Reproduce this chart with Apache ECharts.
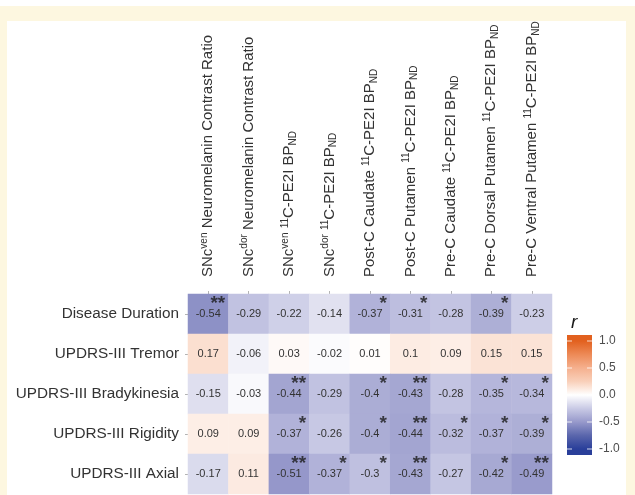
<!DOCTYPE html>
<html>
<head>
<meta charset="utf-8">
<script src="https://cdn.jsdelivr.net/npm/echarts@6/dist/echarts.min.js"></script>
<style>
  html, body { margin: 0; padding: 0; background: #ffffff; }
  #chart { width: 635px; height: 495px; }
</style>
</head>
<body>
<div id="chart"></div>
<script>
// Imaging measures (columns); ^{..} marks superscript, _{..} subscript
const columns = [
  'SNc^{ven} Neuromelanin Contrast Ratio',
  'SNc^{dor} Neuromelanin Contrast Ratio',
  'SNc^{ven} ^{11}C-PE2I BP_{ND}',
  'SNc^{dor} ^{11}C-PE2I BP_{ND}',
  'Post-C Caudate ^{11}C-PE2I BP_{ND}',
  'Post-C Putamen ^{11}C-PE2I BP_{ND}',
  'Pre-C Caudate ^{11}C-PE2I BP_{ND}',
  'Pre-C Dorsal Putamen ^{11}C-PE2I BP_{ND}',
  'Pre-C Ventral Putamen ^{11}C-PE2I BP_{ND}'
];

// Clinical measures (rows, top to bottom)
const rows = [
  'Disease Duration',
  'UPDRS-III Tremor',
  'UPDRS-III Bradykinesia',
  'UPDRS-III Rigidity',
  'UPDRS-III Axial'
];

// Correlation coefficients r, one array per row
const diseaseDuration = [-0.54, -0.29, -0.22, -0.14, -0.37, -0.31, -0.28, -0.39, -0.23];
const tremor          = [0.17, -0.06, 0.03, -0.02, 0.01, 0.1, 0.09, 0.15, 0.15];
const bradykinesia    = [-0.15, -0.03, -0.44, -0.29, -0.4, -0.43, -0.28, -0.35, -0.34];
const rigidity        = [0.09, 0.09, -0.37, -0.26, -0.4, -0.44, -0.32, -0.37, -0.39];
const axial           = [-0.17, 0.11, -0.51, -0.37, -0.3, -0.43, -0.27, -0.42, -0.49];

// Significance markers
const sigDiseaseDuration = ['**', '', '', '', '*', '*', '', '*', ''];
const sigTremor          = ['', '', '', '', '', '', '', '', ''];
const sigBradykinesia    = ['', '', '**', '', '*', '**', '', '*', '*'];
const sigRigidity        = ['', '', '*', '', '*', '**', '*', '*', '*'];
const sigAxial           = ['', '', '**', '*', '*', '**', '', '*', '**'];

// Colour bar tick labels
const legendTicks = [1.0, 0.5, 0.0, -0.5, -1.0];

const values = [diseaseDuration, tremor, bradykinesia, rigidity, axial];
const stars = [sigDiseaseDuration, sigTremor, sigBradykinesia, sigRigidity, sigAxial];

// Diverging palette from r = -1 to r = 1
const palette = ['#2a3f9a', '#5a66ac', '#9799cb', '#c9cae5', '#ffffff',
                 '#f9d0ba', '#f5b08e', '#ed8a57', '#e2611f'];

const heatData = [];
const starData = [];
values.forEach((rowVals, yi) => {
  rowVals.forEach((v, xi) => {
    heatData.push([xi, yi, v]);
    if (stars[yi][xi]) starData.push([xi, yi, stars[yi][xi]]);
  });
});

function toRich(s) {
  return s.replace(/\^\{([^}]*)\}/g, '{sup|$1}').replace(/_\{([^}]*)\}/g, '{sub|$1}');
}

const FONT = '"Liberation Sans", Arial, Helvetica, sans-serif';
const chart = echarts.init(document.getElementById('chart'), null, { renderer: 'canvas' });

// Colour bar geometry
const bar = { x: 567, y: 335, w: 25, h: 120, inset: 6 };
const tickY = v => bar.y + bar.inset + (1 - v) / 2 * (bar.h - 2 * bar.inset);
const CREAM = '#fdf7e0';

// Gradient stops for the colour bar, top = +1
const barStops = [{ offset: 0, color: palette[palette.length - 1] }];
palette.slice().reverse().forEach((c, i) => {
  barStops.push({ offset: (bar.inset + i / (palette.length - 1) * (bar.h - 2 * bar.inset)) / bar.h, color: c });
});
barStops.push({ offset: 1, color: palette[0] });

const graphics = [
  { type: 'rect', shape: { x: 0, y: 6, width: 635, height: 15 }, style: { fill: CREAM }, silent: true },
  { type: 'rect', shape: { x: 0, y: 6, width: 7, height: 489 }, style: { fill: CREAM }, silent: true },
  { type: 'rect', shape: { x: 626, y: 6, width: 9, height: 489 }, style: { fill: CREAM }, silent: true },
  {
    type: 'rect', shape: { x: bar.x, y: bar.y, width: bar.w, height: bar.h }, silent: true,
    style: { fill: new echarts.graphic.LinearGradient(0, 0, 0, 1, barStops) }
  },
  {
    type: 'text', left: 571, top: 313, silent: true,
    style: { text: 'r', font: 'italic 19px ' + FONT, fill: '#1a1a1a' }
  }
];
legendTicks.forEach(v => {
  const y = tickY(v);
  graphics.push({
    type: 'text', x: 599, y: y, silent: true,
    style: { text: v.toFixed(1), font: '12px ' + FONT, fill: '#4d4d4d', verticalAlign: 'middle', textAlign: 'left' }
  });
  graphics.push({ type: 'line', silent: true, shape: { x1: bar.x, y1: y, x2: bar.x + 5, y2: y }, style: { stroke: 'rgba(255,255,255,0.8)', lineWidth: 1 } });
  graphics.push({ type: 'line', silent: true, shape: { x1: bar.x + bar.w - 5, y1: y, x2: bar.x + bar.w, y2: y }, style: { stroke: 'rgba(255,255,255,0.8)', lineWidth: 1 } });
});

chart.setOption({
  backgroundColor: '#ffffff',
  animation: false,
  textStyle: { fontFamily: FONT },
  grid: { left: 188, top: 294, width: 364, height: 200 },
  xAxis: {
    type: 'category',
    position: 'top',
    data: columns,
    axisLine: { show: false },
    axisTick: { show: true, alignWithLabel: true, length: 3, lineStyle: { color: '#b3b3b3' } },
    splitLine: { show: false },
    axisLabel: {
      rotate: -90,
      interval: 0,
      margin: 17,
      fontSize: 15,
      color: '#333333',
      fontFamily: FONT,
      lineHeight: 18,
      formatter: s => toRich(s),
      rich: {
        sup: { fontSize: 10, lineHeight: 10, verticalAlign: 'top', color: '#333333', fontFamily: FONT },
        sub: { fontSize: 10, lineHeight: 10, verticalAlign: 'bottom', color: '#333333', fontFamily: FONT }
      }
    }
  },
  yAxis: {
    type: 'category',
    inverse: true,
    data: rows,
    axisLine: { show: false },
    axisTick: { show: true, alignWithLabel: true, length: 3, lineStyle: { color: '#b3b3b3' } },
    splitLine: { show: false },
    axisLabel: { margin: 9, fontSize: 15.3, color: '#333333', fontFamily: FONT }
  },
  visualMap: {
    show: false,
    type: 'continuous',
    min: -1,
    max: 1,
    seriesIndex: 0,
    dimension: 2,
    inRange: { color: palette }
  },
  series: [
    {
      type: 'heatmap',
      data: heatData,
      silent: true,
      label: {
        show: true,
        formatter: p => String(p.value[2]),
        fontSize: 11,
        color: '#333333',
        fontFamily: FONT
      },
      emphasis: { disabled: true }
    },
    {
      type: 'scatter',
      data: starData,
      symbolSize: 0,
      silent: true,
      label: {
        show: true,
        position: 'inside',
        formatter: p => p.value[2],
        align: 'right',
        verticalAlign: 'middle',
        offset: [17, -10],
        fontSize: 19,
        fontWeight: 'bold',
        color: '#1a1a1a',
        fontFamily: FONT
      },
      emphasis: { disabled: true }
    }
  ],
  graphic: graphics
});
</script>
</body>
</html>
